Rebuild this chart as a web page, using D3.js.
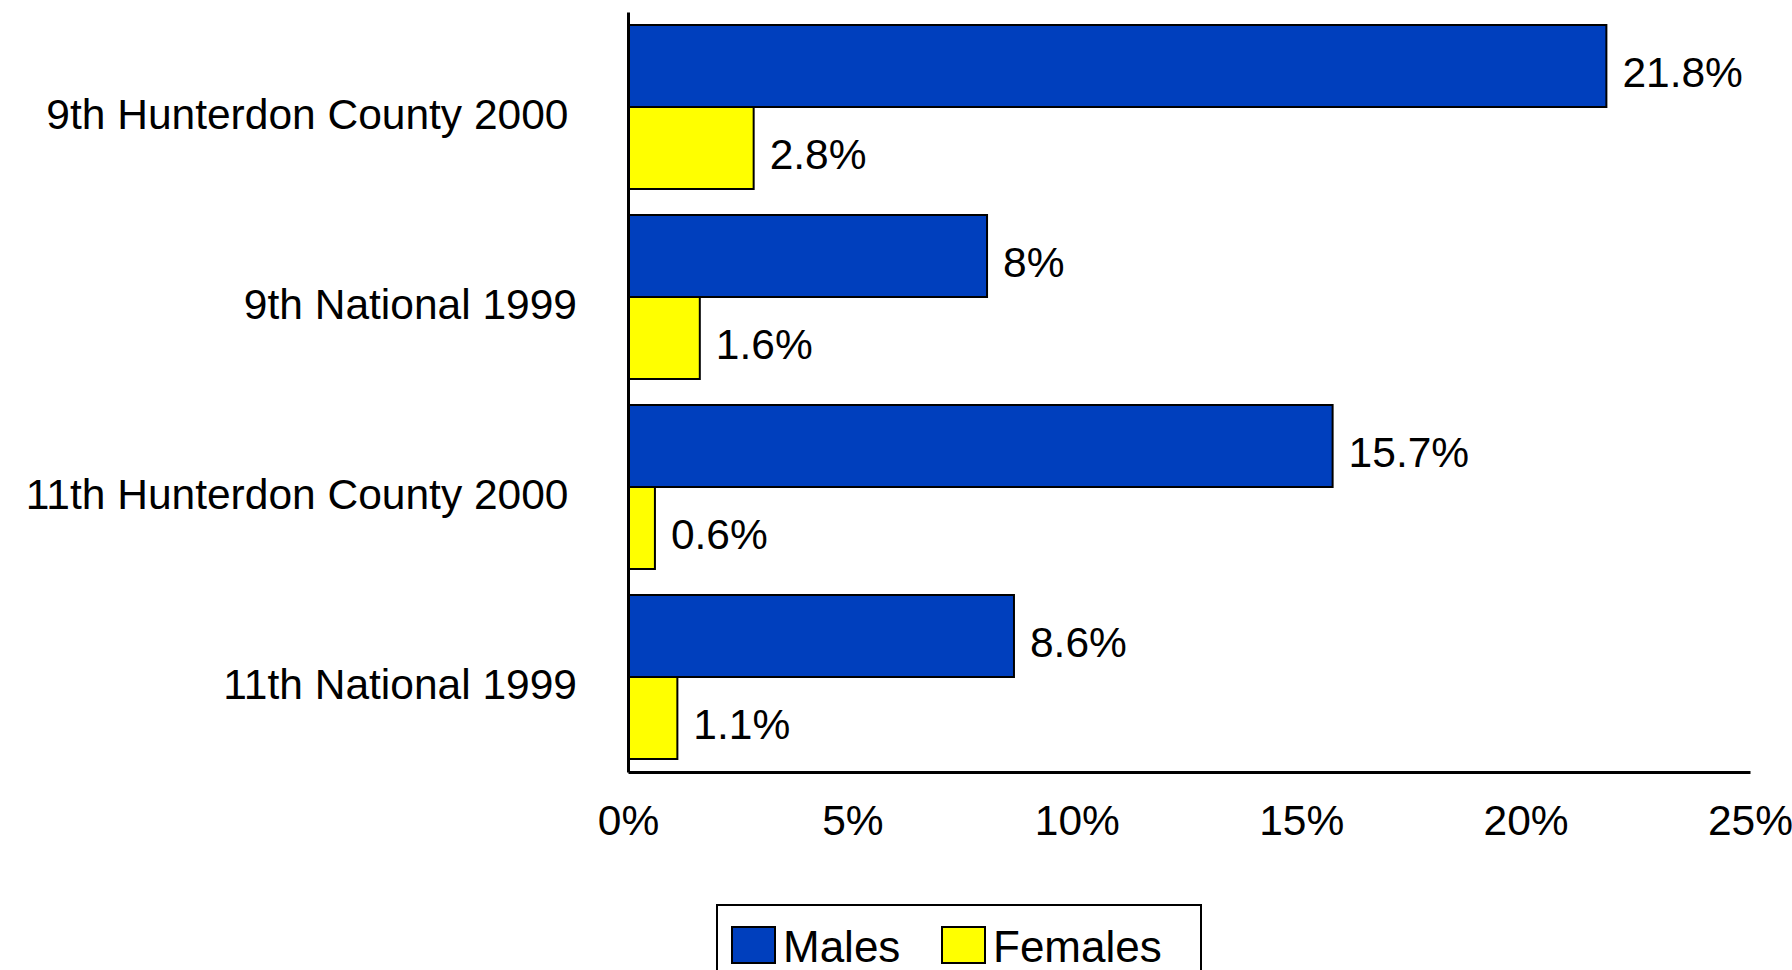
<!DOCTYPE html>
<html><head><meta charset="utf-8">
<script src="https://cdn.jsdelivr.net/npm/d3@7"></script>
<style>
html,body{margin:0;padding:0;background:#fff;overflow:hidden;}
text{font-family:"Liberation Sans",Arial,sans-serif;fill:#000;white-space:pre;}
</style></head>
<body>
<svg id="chart" width="1792" height="970"></svg>
<script>
const categories = ["9th Hunterdon County 2000\u2009", "9th National 1999", "11th Hunterdon County 2000\u2009", "11th National 1999"];
const seriesNames = ["Males", "Females"];
const males = [21.8, 8, 15.7, 8.6];
const females = [2.8, 1.6, 0.6, 1.1];
const valueLabels = [["21.8%", "8%", "15.7%", "8.6%"], ["2.8%", "1.6%", "0.6%", "1.1%"]];
const xTicks = [0, 5, 10, 15, 20, 25];
const colors = ["#003FBD", "#FFFF00"];

(function(){
const svg = d3.select("#chart");
const pLeft = 628, pRight = 1750, pTop = 12, pBottom = 772;
const x = d3.scaleLinear().domain([0, 25]).range([pLeft, pRight]);
const y = d3.scaleBand().domain(categories).range([pTop, pBottom]).paddingInner(26/190).paddingOuter(13/190);
const sub = d3.scaleBand().domain(seriesNames).range([0, y.bandwidth()]);
const series = [males, females];

const g = svg.append("g");
series.forEach((vals, si) => {
  g.selectAll(null).data(vals).enter().append("rect")
    .attr("x", x(0))
    .attr("y", (d, i) => y(categories[i]) + sub(seriesNames[si]))
    .attr("width", d => x(d) - x(0))
    .attr("height", sub.bandwidth())
    .attr("fill", colors[si])
    .attr("stroke", "#000").attr("stroke-width", 2);
  g.selectAll(null).data(vals).enter().append("text")
    .attr("x", d => x(d) + 16)
    .attr("y", (d, i) => y(categories[i]) + sub(seriesNames[si]) + sub.bandwidth() / 2 + 21)
    .attr("font-size", 42.5)
    .text((d, i) => valueLabels[si][i]);
});

svg.append("g").selectAll("text").data(categories).enter().append("text")
  .attr("x", 577)
  .attr("y", d => y(d) + y.bandwidth() / 2 + 22)
  .attr("text-anchor", "end")
  .attr("font-size", 42.5)
  .text(d => d);

const xAxis = d3.axisBottom(x).tickValues(xTicks).tickSize(0).tickPadding(33).tickFormat(d => d + "%");
const ax = svg.append("g").attr("transform", `translate(0,${pBottom})`).call(xAxis);
ax.select(".domain").attr("stroke", "#000").attr("stroke-width", 3);
ax.selectAll("text").attr("font-size", 42.5).attr("font-family", "Liberation Sans, Arial, sans-serif");

const yAxis = d3.axisLeft(y).tickSize(0).tickFormat("");
const ay = svg.append("g").attr("transform", `translate(${pLeft},0)`).call(yAxis);
ay.select(".domain").attr("stroke", "#000").attr("stroke-width", 3);

const lg = svg.append("g");
lg.append("rect").attr("x", 717).attr("y", 905).attr("width", 484).attr("height", 90)
  .attr("fill", "#fff").attr("stroke", "#000").attr("stroke-width", 2);
const legendX = [732, 942];
seriesNames.forEach((n, i) => {
  lg.append("rect").attr("x", legendX[i]).attr("y", 927).attr("width", 43).attr("height", 36)
    .attr("fill", colors[i]).attr("stroke", "#000").attr("stroke-width", 2);
  lg.append("text").attr("x", legendX[i] + 51).attr("y", 962).attr("font-size", 44).text(n);
});
})();
</script>
</body></html>
